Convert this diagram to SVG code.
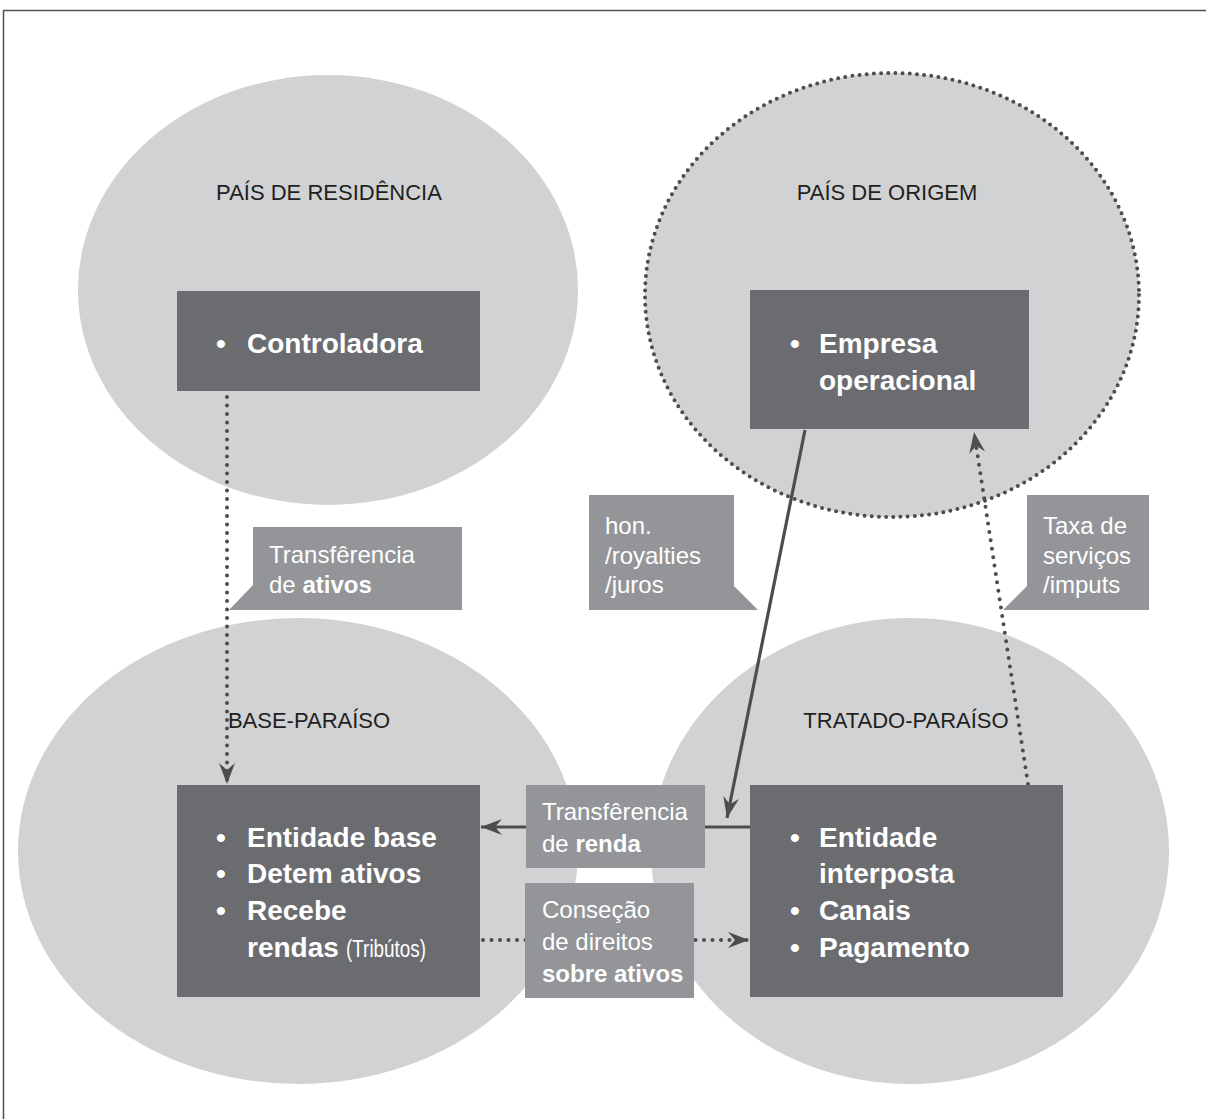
<svg xmlns="http://www.w3.org/2000/svg" width="1206" height="1119" viewBox="0 0 1206 1119">
  <defs>
    <style>
      .zone { fill: #d1d2d4; }
      .zone-dotted { fill: #d1d2d4; stroke: #4d4d4f; stroke-width: 4; stroke-linecap: round; stroke-dasharray: 0 7.2; }
      .entity { fill: #6b6c70; }
      .tag { fill: #939598; }
      .hdr { font-family: "Liberation Sans", Arial, sans-serif; font-size: 22px; fill: #231f20; text-anchor: middle; }
      .item { font-family: "Liberation Sans", Arial, sans-serif; font-size: 28px; font-weight: bold; fill: #ffffff; }
      .dot { font-family: "Liberation Sans", Arial, sans-serif; font-size: 28px; font-weight: bold; fill: #ffffff; text-anchor: middle; }
      .note { font-family: "Liberation Sans", Arial, sans-serif; font-size: 23px; fill: #ffffff; }
      .lbl { font-family: "Liberation Sans", Arial, sans-serif; font-size: 24px; fill: #ffffff; }
      .b { font-weight: bold; }
      .solid { fill: none; stroke: #4d4d4f; stroke-width: 3.2; }
      .dotted { fill: none; stroke: #4d4d4f; stroke-width: 4; stroke-linecap: round; stroke-dasharray: 0 8.5; }
      .frame { fill: none; stroke: #505050; stroke-width: 1.5; }
    </style>
    <marker id="head" viewBox="-22 -10 24 20" refX="0" refY="0" markerWidth="24" markerHeight="20" markerUnits="userSpaceOnUse" orient="auto">
      <path d="M0,0 L-21,-8 L-14,0 L-21,8 Z" fill="#4d4d4f"/>
    </marker>
  </defs>

  <!-- page frame: top and left rules -->
  <path class="frame" d="M3.5,1119 L3.5,10.5 L1206,10.5"/>

  <!-- country zones -->
  <g id="zone-residencia">
    <ellipse class="zone" cx="328" cy="290" rx="250" ry="215"/>
    <text class="hdr" x="329" y="200">PAÍS DE RESIDÊNCIA</text>
  </g>
  <g id="zone-origem">
    <ellipse class="zone-dotted" cx="892" cy="295" rx="247" ry="222"/>
    <text class="hdr" x="887" y="200">PAÍS DE ORIGEM</text>
  </g>
  <g id="zone-base">
    <ellipse class="zone" cx="298" cy="851" rx="280" ry="233"/>
    <text class="hdr" x="309" y="728">BASE-PARAÍSO</text>
  </g>
  <g id="zone-tratado">
    <ellipse class="zone" cx="910" cy="851" rx="259" ry="233"/>
    <text class="hdr" x="906" y="728">TRATADO-PARAÍSO</text>
  </g>

  <!-- flows between entities -->
  <g id="connectors">
    <path class="dotted" d="M227,397 L227,784" marker-end="url(#head)"/>
    <path class="solid" d="M805,430 L727,818" marker-end="url(#head)"/>
    <path class="dotted" d="M1028,784 L974,432" marker-end="url(#head)"/>
    <path class="solid" d="M750,827 L481,827" marker-end="url(#head)"/>
    <path class="dotted" d="M483,940 L749,940" marker-end="url(#head)"/>
  </g>

  <!-- entities -->
  <g id="controladora">
    <rect class="entity" x="177" y="291" width="303" height="100"/>
    <text class="dot" x="221" y="353">•</text>
    <text class="item" x="247" y="353">Controladora</text>
  </g>
  <g id="empresa-operacional">
    <rect class="entity" x="750" y="290" width="279" height="139"/>
    <text class="dot" x="795" y="353">•</text>
    <text class="item" x="819" y="353">Empresa</text>
    <text class="item" x="819" y="390">operacional</text>
  </g>
  <g id="entidade-base">
    <rect class="entity" x="177" y="785" width="303" height="212"/>
    <text class="dot" x="221" y="847">•</text>
    <text class="item" x="247" y="847">Entidade base</text>
    <text class="dot" x="221" y="883">•</text>
    <text class="item" x="247" y="883">Detem ativos</text>
    <text class="dot" x="221" y="920">•</text>
    <text class="item" x="247" y="920">Recebe</text>
    <text class="item" x="247" y="957">rendas</text>
    <text class="note" x="346" y="957" textLength="80" lengthAdjust="spacingAndGlyphs">(Tribútos)</text>
  </g>
  <g id="entidade-interposta">
    <rect class="entity" x="750" y="785" width="313" height="212"/>
    <text class="dot" x="795" y="847">•</text>
    <text class="item" x="819" y="847">Entidade</text>
    <text class="item" x="819" y="883">interposta</text>
    <text class="dot" x="795" y="920">•</text>
    <text class="item" x="819" y="920">Canais</text>
    <text class="dot" x="795" y="957">•</text>
    <text class="item" x="819" y="957">Pagamento</text>
  </g>

  <!-- flow labels -->
  <g id="label-ativos">
    <path class="tag" d="M253,527 H462 V610 H229 L253,585 Z"/>
    <text class="lbl" x="269" y="563">Transfêrencia</text>
    <text class="lbl" x="269" y="593">de <tspan class="b">ativos</tspan></text>
  </g>
  <g id="label-royalties">
    <path class="tag" d="M589,495 H734 V586 L758,610 H589 Z"/>
    <text class="lbl" x="605" y="534">hon.</text>
    <text class="lbl" x="605" y="563.5">/royalties</text>
    <text class="lbl" x="605" y="593">/juros</text>
  </g>
  <g id="label-servicos">
    <path class="tag" d="M1027,495 H1149 V610 H1003 L1027,586 Z"/>
    <text class="lbl" x="1043" y="534">Taxa de</text>
    <text class="lbl" x="1043" y="563.5">serviços</text>
    <text class="lbl" x="1043" y="593">/imputs</text>
  </g>
  <g id="label-renda">
    <rect class="tag" x="526" y="785" width="179" height="83"/>
    <text class="lbl" x="542" y="820">Transfêrencia</text>
    <text class="lbl" x="542" y="852">de <tspan class="b">renda</tspan></text>
  </g>
  <g id="label-direitos">
    <rect class="tag" x="525" y="883" width="169" height="115"/>
    <text class="lbl" x="542" y="918">Conseção</text>
    <text class="lbl" x="542" y="950">de direitos</text>
    <text class="lbl b" x="542" y="982">sobre ativos</text>
  </g>
</svg>
